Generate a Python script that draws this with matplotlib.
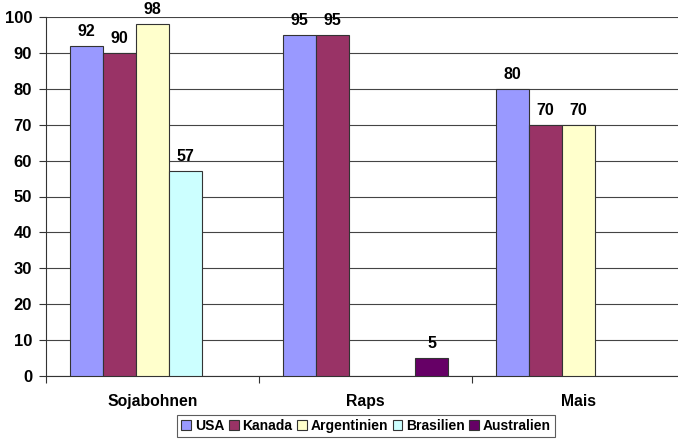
import numpy as np
import matplotlib
matplotlib.use("Agg")
from matplotlib import pyplot as plt

plt.rcParams['font.family'] = ['Liberation Sans', 'DejaVu Sans']
plt.rcParams['font.weight'] = 'bold'

categories = ['Sojabohnen', 'Raps', 'Mais']
countries = ['USA', 'Kanada', 'Argentinien', 'Brasilien', 'Australien']
colors = ['#9999FF', '#993366', '#FFFFCC', '#CCFFFF', '#660066']
# None = no bar for that country
values = {
    'USA':         [92, 95, 80],
    'Kanada':      [90, 95, 70],
    'Argentinien': [98, None, 70],
    'Brasilien':   [57, None, None],
    'Australien':  [None, 5, None],
}

fig = plt.figure(figsize=(6.78, 4.42), dpi=100)
ax = fig.add_axes([46/678, 1-376/442, 639/678, 359/442])

w = 0.155
x = np.arange(len(categories)) + 0.5
for i, (name, col) in enumerate(zip(countries, colors)):
    off = (i - 2) * w
    vals = values[name]
    xs = [x[k] + off for k, v in enumerate(vals) if v is not None]
    hs = [v for v in vals if v is not None]
    ax.bar(xs, hs, width=w, color=col, edgecolor='#333333', linewidth=0.8,
           label=name, zorder=3)
    for xx, h in zip(xs, hs):
        ax.text(xx, h + 2, str(h), ha='center', va='bottom', fontsize=11.5, fontweight='bold')

ax.set_xlim(0, 3)
ax.set_ylim(0, 100)
ax.set_yticks(range(0, 101, 10))
ax.set_xticks([0, 1, 2, 3])
ax.set_xticklabels([])
ax.set_xticks(x, minor=True)
ax.set_xticklabels(categories, minor=True, fontsize=11.3, fontweight='bold')
ax.tick_params(axis='x', which='minor', length=0, pad=13)
ax.tick_params(axis='x', which='major', length=5, color='#333333', direction='out')
ax.tick_params(axis='y', length=5, color='#333333', labelsize=12, pad=5)
for lab in ax.get_yticklabels():
    lab.set_fontweight('bold')
ax.yaxis.grid(True, color='#444444', linewidth=0.8, zorder=0)
ax.set_axisbelow(True)
for s in ['top', 'right']:
    ax.spines[s].set_visible(False)
ax.spines['left'].set_color('#333333')
ax.spines['bottom'].set_color('#333333')

leg = fig.legend(loc='center', bbox_to_anchor=(366/678, 1-426/442), ncol=5,
                 fontsize=10, frameon=True, fancybox=False, edgecolor='#333333',
                 handlelength=0.7, handleheight=0.7, handletextpad=0.25,
                 columnspacing=0.35, borderpad=0.3)
leg.get_frame().set_linewidth(0.8)
for t in leg.get_texts():
    t.set_fontweight('bold')

fig.savefig('out.png', dpi=100)
